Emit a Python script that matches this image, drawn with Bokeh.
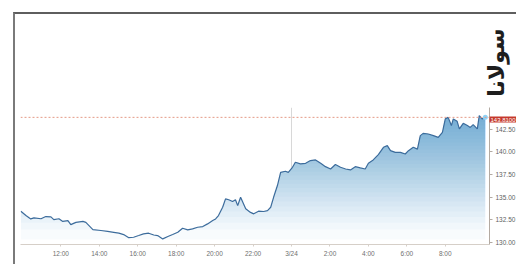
import numpy as np
import pandas as pd
from bokeh.plotting import figure
from bokeh.models import Range1d, FixedTicker, NumeralTickFormatter, Span, Label
from bokeh.embed import file_html
from bokeh.resources import INLINE

# ---- data ----
times = [
    "2025-03-23 09:55", "2025-03-23 10:11", "2025-03-23 10:26", "2025-03-23 10:36", "2025-03-23 10:58",
    "2025-03-23 11:13", "2025-03-23 11:29", "2025-03-23 11:38", "2025-03-23 11:54", "2025-03-23 12:06",
    "2025-03-23 12:22", "2025-03-23 12:31", "2025-03-23 12:47", "2025-03-23 13:09", "2025-03-23 13:18",
    "2025-03-23 13:40", "2025-03-23 14:05", "2025-03-23 14:26", "2025-03-23 14:45", "2025-03-23 15:01",
    "2025-03-23 15:16", "2025-03-23 15:32", "2025-03-23 15:47", "2025-03-23 16:03", "2025-03-23 16:18",
    "2025-03-23 16:34", "2025-03-23 16:50", "2025-03-23 17:02", "2025-03-23 17:18", "2025-03-23 17:34",
    "2025-03-23 17:49", "2025-03-23 18:05", "2025-03-23 18:20", "2025-03-23 18:36", "2025-03-23 18:51",
    "2025-03-23 19:07", "2025-03-23 19:23", "2025-03-23 19:38", "2025-03-23 19:54", "2025-03-23 20:03",
    "2025-03-23 20:12", "2025-03-23 20:25", "2025-03-23 20:34", "2025-03-23 20:44", "2025-03-23 20:56",
    "2025-03-23 21:05", "2025-03-23 21:12", "2025-03-23 21:21", "2025-03-23 21:37", "2025-03-23 21:52",
    "2025-03-23 22:02", "2025-03-23 22:17", "2025-03-23 22:33", "2025-03-23 22:45", "2025-03-23 22:55",
    "2025-03-23 23:04", "2025-03-23 23:16", "2025-03-23 23:26", "2025-03-23 23:41", "2025-03-23 23:50",
    "2025-03-24 00:03", "2025-03-24 00:12", "2025-03-24 00:28", "2025-03-24 00:44", "2025-03-24 00:59",
    "2025-03-24 01:15", "2025-03-24 01:31", "2025-03-24 01:46", "2025-03-24 02:02", "2025-03-24 02:17",
    "2025-03-24 02:33", "2025-03-24 02:49", "2025-03-24 03:04", "2025-03-24 03:19", "2025-03-24 03:35",
    "2025-03-24 03:50", "2025-03-24 04:00", "2025-03-24 04:15", "2025-03-24 04:31", "2025-03-24 04:47",
    "2025-03-24 04:59", "2025-03-24 05:09", "2025-03-24 05:24", "2025-03-24 05:40", "2025-03-24 05:55",
    "2025-03-24 06:05", "2025-03-24 06:20", "2025-03-24 06:33", "2025-03-24 06:42", "2025-03-24 06:51",
    "2025-03-24 07:07", "2025-03-24 07:23", "2025-03-24 07:38", "2025-03-24 07:51", "2025-03-24 08:00",
    "2025-03-24 08:09", "2025-03-24 08:19", "2025-03-24 08:25", "2025-03-24 08:37", "2025-03-24 08:44",
    "2025-03-24 08:56", "2025-03-24 09:09", "2025-03-24 09:18", "2025-03-24 09:27", "2025-03-24 09:40",
    "2025-03-24 09:46", "2025-03-24 09:55", "2025-03-24 10:05",
]
prices = [
    133.43, 132.95, 132.58, 132.70, 132.60,
    132.84, 132.80, 132.50, 132.60, 132.30,
    132.40, 131.95, 132.20, 132.30, 132.20,
    131.40, 131.30, 131.20, 131.10, 131.00,
    130.85, 130.50, 130.55, 130.74, 130.93,
    131.00, 130.80, 130.74, 130.37, 130.63,
    130.85, 131.10, 131.55, 131.37, 131.48,
    131.66, 131.73, 132.03, 132.40, 132.58,
    132.95, 133.87, 134.80, 134.70, 134.50,
    134.70, 134.05, 134.97, 133.70, 133.30,
    133.14, 133.43, 133.40, 133.50, 133.87,
    134.97, 136.27, 137.73, 137.85, 137.73,
    138.29, 138.84, 138.66, 138.73, 139.03,
    139.10, 138.73, 138.36, 138.10, 138.59,
    138.29, 138.10, 138.00, 138.36, 138.22,
    138.10, 138.73, 139.10, 139.69, 140.50,
    140.68, 140.13, 139.94, 139.94, 139.76,
    140.13, 140.50, 140.30, 141.79, 142.04,
    141.97, 141.79, 141.60, 142.15, 143.64,
    143.81, 142.90, 143.64, 143.37, 142.53,
    143.15, 142.90, 142.70, 143.00, 142.53,
    144.00, 143.64, 143.81,
]
x_tick_times = [
    "2025-03-23 12:00", "2025-03-23 14:00", "2025-03-23 16:00", "2025-03-23 18:00",
    "2025-03-23 20:00", "2025-03-23 22:00", "2025-03-24 00:00", "2025-03-24 02:00",
    "2025-03-24 04:00", "2025-03-24 06:00", "2025-03-24 08:00",
]
x_tick_labels = ["12:00", "14:00", "16:00", "18:00", "20:00", "22:00",
                 "3/24", "2:00", "4:00", "6:00", "8:00"]
y_ticks = [130.0, 132.5, 135.0, 137.5, 140.0, 142.5]
last_price = 143.81
last_price_text = "143.8100"
title_text = "سولانا"

# ---- derived values ----
t = pd.to_datetime(pd.Series(times))
day0 = t.iloc[0].normalize()
hours = ((t - day0) / pd.Timedelta(hours=1)).to_numpy()
vals = np.array(prices)
tick_hours = ((pd.to_datetime(pd.Series(x_tick_times)) - day0) / pd.Timedelta(hours=1)).to_numpy()

x_lo, x_hi = 9.9, 34.3
y_lo, y_hi = 129.75, 144.9

W, H = 503, 252
p = figure(width=W, height=H,
           x_range=Range1d(x_lo, x_hi), y_range=Range1d(y_lo, y_hi),
           y_axis_location="right",
           output_backend="svg", toolbar_location=None,
           min_border_left=5, min_border_right=29,
           min_border_top=93, min_border_bottom=22)
# newspaper-style frame lines on the top and left edges
p.styles = {"transform": "translate(13px, 12px)",
            "border-top": "2px solid #5e5e5e", "border-left": "2px solid #7a7a7a"}
p.background_fill_color = "white"
p.border_fill_color = "white"
p.outline_line_color = None
p.xgrid.visible = False
p.ygrid.visible = False

# gradient fill made of stacked translucent layers (denser toward the top)
n_layers = 30
fracs = np.linspace(0, 1, n_layers) ** 0.75
levels = 130.3 + (vals.max() - 130.3) * fracs
for lv in levels:
    p.varea(x=hours, y1=np.full_like(vals, lv), y2=np.maximum(vals, lv),
            fill_color="#3f86c8", fill_alpha=0.035)

# crosshair at the day boundary
mid = tick_hours[x_tick_labels.index("3/24")]
p.segment(x0=[mid], y0=[np.interp(mid, hours, vals)], x1=[mid], y1=[y_hi],
          line_color="#d8d8d8", line_width=1)

# last price dotted line
p.add_layout(Span(location=last_price, dimension="width", line_color="#e49a86",
                  line_dash="2 2", line_width=1))

p.line(hours, vals, line_color="#3c6c9c", line_width=1.2)
p.scatter([hours[-1]], [vals[-1]], size=5, fill_color="#8fd3f7", line_color=None)

# axes
p.xaxis.ticker = FixedTicker(ticks=list(tick_hours))
p.xaxis.major_label_overrides = {float(h): lab for h, lab in zip(tick_hours, x_tick_labels)}
p.xaxis.axis_line_color = "#d6cfc8"
p.xaxis.major_tick_line_color = "#d6cfc8"
p.xaxis.major_tick_out = 2
p.xaxis.major_tick_in = 0
p.xaxis.minor_tick_line_color = None
p.xaxis.major_label_text_font_size = "6.5px"
p.xaxis.major_label_text_color = "#6f6f6f"
p.xaxis.major_label_text_font = "Liberation Sans"
p.xaxis.major_label_standoff = 3

p.yaxis.ticker = FixedTicker(ticks=y_ticks)
p.yaxis.formatter = NumeralTickFormatter(format="0.00")
p.yaxis.axis_line_color = "#b3aaa2"
p.yaxis.major_tick_line_color = "#b3aaa2"
p.yaxis.major_tick_out = 3
p.yaxis.major_tick_in = 0
p.yaxis.minor_tick_line_color = None
p.yaxis.major_label_text_font_size = "6.5px"
p.yaxis.major_label_text_color = "#5f5f5f"
p.yaxis.major_label_text_font = "Liberation Sans"
p.yaxis.major_label_standoff = 3

# labels placed in the top side panel (canvas units) so they are not clipped to the frame
p.add_layout(Label(x=W - 31, y=103, x_units="canvas", y_units="canvas", text=last_price_text,
                   text_font_size="6px", text_color="white", text_font="Liberation Sans",
                   text_align="left", text_baseline="middle",
                   background_fill_color="#c5392c", padding=1), "above")
p.add_layout(Label(x=W - 24, y=46, x_units="canvas", y_units="canvas", text=title_text,
                   angle=np.pi / 2, text_font="DejaVu Sans", text_font_style="bold",
                   text_font_size="22px", text_color="#1e1e1e",
                   text_align="center", text_baseline="middle"), "above")

open("out.html", "w").write(file_html(p, INLINE))
